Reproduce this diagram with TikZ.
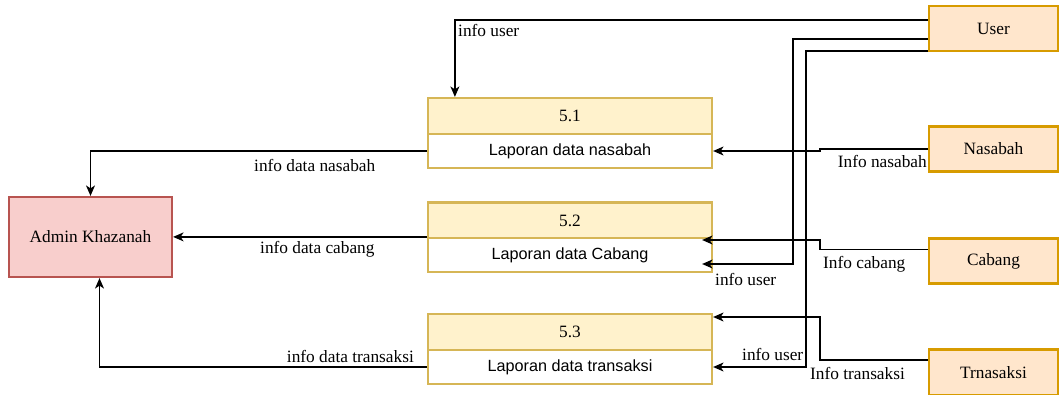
\documentclass[tikz,border=0pt]{standalone}
\usepackage{fontspec}
\setmainfont{Liberation Serif}
\newfontfamily\arialfont{Liberation Sans}
\usetikzlibrary{arrows.meta}
\definecolor{procfill}{HTML}{FFF2CC}
\definecolor{procdraw}{HTML}{D6B656}
\definecolor{extfill}{HTML}{FFE6CC}
\definecolor{extdraw}{HTML}{D79B00}
\definecolor{adminfill}{HTML}{F8CECC}
\definecolor{admindraw}{HTML}{B85450}
\begin{document}
\begin{tikzpicture}[x=1pt,y=-1pt,
  box/.style={rectangle, inner sep=0pt, line width=2.2pt, font=\fontsize{17.3}{20}\selectfont},
  ext/.style={box, draw=extdraw, fill=extfill, minimum width=129pt, minimum height=45pt},
  admin/.style={box, draw=admindraw, fill=adminfill, minimum width=163pt, minimum height=80pt},
  prochead/.style={box, draw=procdraw, fill=procfill, minimum width=284pt, minimum height=36pt},
  procbody/.style={box, draw=procdraw, fill=white, minimum width=284pt, minimum height=34pt, font=\arialfont\fontsize{16.2}{20}\selectfont},
  flow/.style={line width=1.3pt, -{Stealth[length=10.5pt,width=9pt,inset=3pt]}},
  lbl/.style={inner sep=0pt, font=\fontsize{17.3}{20}\selectfont}
]
\useasboundingbox[fill=white] (0,0) rectangle (1059,394);

% data stores / processes
\node[prochead] (p1h) at (570,116) {5.1};
\node[procbody] (p1)  at (570,151) {Laporan data nasabah};
\node[prochead] (p2h) at (570,220.5) {5.2};
\node[procbody] (p2)  at (570,255) {Laporan data Cabang};
\node[prochead] (p3h) at (570,332) {5.3};
\node[procbody] (p3)  at (570,367) {Laporan data transaksi};

% external entities
\node[admin] (admin) at (90.5,237) {Admin Khazanah};
\node[ext] (user)    at (993.5,28.5) {User};
\node[ext] (nasabah) at (993.5,149) {Nasabah};
\node[ext] (cabang)  at (993.5,261) {Cabang};
\node[ext, minimum height=46pt] (trans) at (993.5,372.5) {Trnasaksi};

% flows from User
\draw[flow] ([yshift=8.5pt]user.west) -| ([xshift=28pt]p1h.north west);
\draw[flow] ([yshift=-10.5pt]user.west) -- ++(-135,0) |- ([xshift=-11pt,yshift=-9pt]p2.east);
\draw[flow] ([yshift=1pt]user.south west) -- ++(-122,0) |- (p3.east);

% flows from the other entities
\draw[flow] (nasabah.west) -- ++(-108,0) |- (p1.east);
\draw[flow] ([yshift=11.5pt]cabang.west) -- ++(-108,0) |- ([xshift=-11pt,yshift=15pt]p2.east);
\draw[flow] ([yshift=12.5pt]trans.west) -- ++(-108,0) |- ([yshift=15pt]p3h.east);

% flows to Admin Khazanah
\draw[flow] (p1.west) -| (admin.north);
\draw[flow] (p2.north west) -- (p2.north west -| admin.east);
\draw[flow] (p3.west) -| ([xshift=9pt]admin.south);

% flow labels
\node[lbl, anchor=west] (l1) at (458,30) {info user};
\node[lbl, anchor=west] (l2) at (715,279) {info user};
\node[lbl, anchor=west] (l3) at (742,354) {info user};
\node[lbl, anchor=east] (l4) at (927,161) {Info nasabah};
\node[lbl, anchor=west] (l5) at (823,264) {Info cabang};
\node[lbl, anchor=west] (l6) at (810,373) {Info transaksi};
\node[lbl, anchor=west] (l7) at (254,165) {info data nasabah};
\node[lbl, anchor=west] (l8) at (260,249) {info data cabang};
\node[lbl, anchor=east] (l9) at (414,356) {info data transaksi};
\end{tikzpicture}
\end{document}
